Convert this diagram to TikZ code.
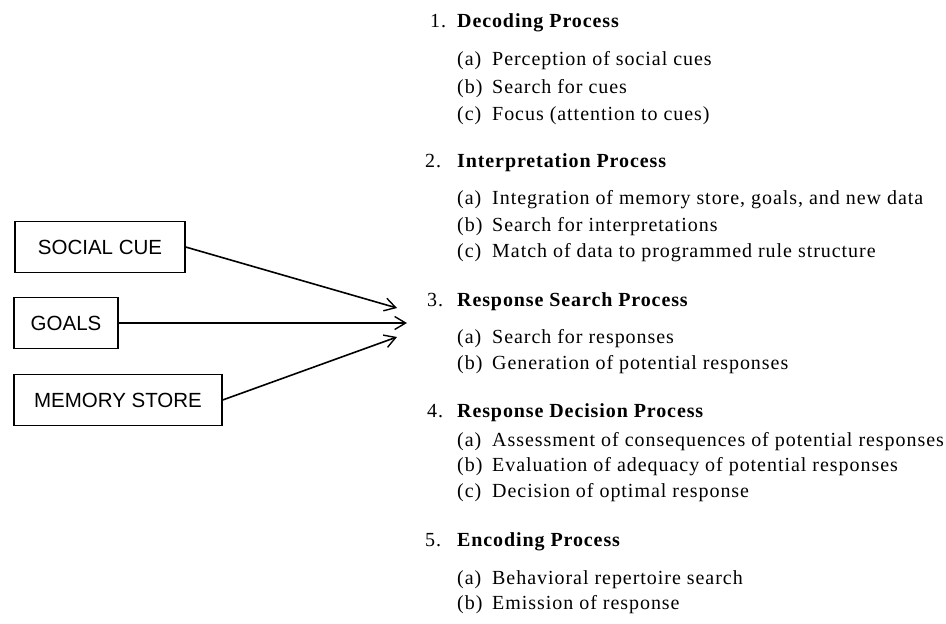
\documentclass[tikz,border=0pt]{standalone}
\usepackage{fontspec}
\setmainfont{Liberation Serif}[LetterSpace=4.5]
\newfontfamily\itemfont{Liberation Serif}[LetterSpace=4.8]
\newfontfamily\boxfont{Liberation Sans}
\usetikzlibrary{arrows.meta}
\tikzset{
  cuebox/.style={draw, line width=1.3pt, font=\boxfont\fontsize{20.5}{24}\selectfont, inner sep=0pt, minimum height=51pt},
  conn/.style={line width=1.6pt, -{Straight Barb[length=11pt, width=13pt, line width=1.4pt]}},
  headnum/.style={anchor=base west, font=\fontsize{20}{24}\selectfont, inner sep=0pt},
  headtxt/.style={anchor=base west, font=\bfseries\fontsize{20}{24}\selectfont, inner sep=0pt},
  item/.style={anchor=base west, font=\itemfont\fontsize{20}{24}\selectfont, inner sep=0pt}
}
\begin{document}
\begin{tikzpicture}[x=1pt,y=-1pt]
\useasboundingbox (0,0) rectangle (946,624);
% left boxes
\node[cuebox, minimum width=170pt] (cue) at (100,247) {SOCIAL CUE};
\node[cuebox, minimum width=104pt] (goals) at (66,323) {GOALS};
\node[cuebox, minimum width=208pt] (mem) at (118,400) {MEMORY STORE};
\coordinate (t1) at (397,308);
\coordinate (t2) at (407,323);
\coordinate (t3) at (397,337);
\draw[conn] (cue.east) -- (t1);
\draw[conn] (goals.east) -- (t2);
\draw[conn] (mem.east) -- (t3);
% right list
\node[headnum] (n1) at (430,27.5) {1.};
\node[headtxt] (h1) at (457,27.5) {Decoding Process};
\node[item] (l1a) at (457,65) {(a)};
\node[item] (i1a) at (492,65) {Perception of social cues};
\node[item] (l1b) at (457,93) {(b)};
\node[item] (i1b) at (492,93) {Search for cues};
\node[item] (l1c) at (457,120) {(c)};
\node[item] (i1c) at (492,120) {Focus (attention to cues)};
\node[headnum] (n2) at (425,167) {2.};
\node[headtxt] (h2) at (457,167) {Interpretation Process};
\node[item] (l2a) at (457,204) {(a)};
\node[item] (i2a) at (492,204) {Integration of memory store, goals, and new data};
\node[item] (l2b) at (457,231) {(b)};
\node[item] (i2b) at (492,231) {Search for interpretations};
\node[item] (l2c) at (457,257) {(c)};
\node[item] (i2c) at (492,257) {Match of data to programmed rule structure};
\node[headnum] (n3) at (427,306) {3.};
\node[headtxt] (h3) at (457,306) {Response Search Process};
\node[item] (l3a) at (457,343) {(a)};
\node[item] (i3a) at (492,343) {Search for responses};
\node[item] (l3b) at (457,369) {(b)};
\node[item] (i3b) at (492,369) {Generation of potential responses};
\node[headnum] (n4) at (427,417.5) {4.};
\node[headtxt] (h4) at (457,417.5) {Response Decision Process};
\node[item] (l4a) at (457,446) {(a)};
\node[item] (i4a) at (492,446) {Assessment of consequences of potential responses};
\node[item] (l4b) at (457,471) {(b)};
\node[item] (i4b) at (492,471) {Evaluation of adequacy of potential responses};
\node[item] (l4c) at (457,497) {(c)};
\node[item] (i4c) at (492,497) {Decision of optimal response};
\node[headnum] (n5) at (425,546) {5.};
\node[headtxt] (h5) at (457,546) {Encoding Process};
\node[item] (l5a) at (457,584) {(a)};
\node[item] (i5a) at (492,584) {Behavioral repertoire search};
\node[item] (l5b) at (457,609) {(b)};
\node[item] (i5b) at (492,609) {Emission of response};
\end{tikzpicture}
\end{document}
